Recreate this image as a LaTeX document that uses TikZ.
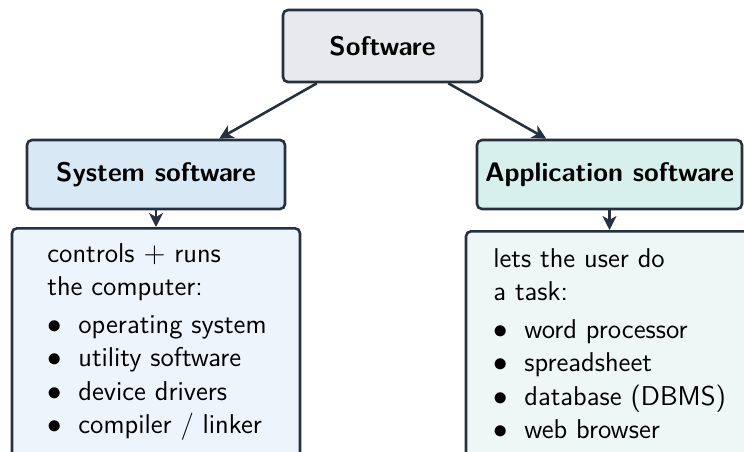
\documentclass[tikz,border=0pt]{standalone}
\usetikzlibrary{arrows.meta}
\definecolor{edgec}{HTML}{263140}
\definecolor{greyf}{HTML}{E8E9EC}
\definecolor{bluef}{HTML}{D8E8F4}
\definecolor{bluel}{HTML}{EEF4FB}
\definecolor{greenf}{HTML}{D8F0EB}
\definecolor{greenl}{HTML}{EEF7F5}
\newcommand{\itm}[1]{\makebox[15.5pt][l]{$\bullet$}#1}
\begin{document}
\begin{tikzpicture}[x=0.5pt,y=-0.5pt,
  box/.style={draw=edgec, line width=1.3pt, rounded corners=2.5pt, inner sep=0pt},
  head/.style={box, font=\sffamily\bfseries\fontsize{13.4}{16}\selectfont, text=black},
  body/.style={anchor=north west, inner sep=0pt, align=left, font=\sffamily\fontsize{13.6}{16.75}\selectfont, text=black},
  arr/.style={draw=edgec, line width=1.3pt, -{Stealth[length=7pt,width=7pt,inset=2pt]}}
]
\useasboundingbox (0,0) rectangle (744,451);
\node[head, fill=greyf, minimum width=99.5pt, minimum height=36pt] (soft) at (382.5,46) {Software};
\node[head, fill=bluef, minimum width=129pt, minimum height=34.5pt] (sys) at (156,174.5) {System software};
\node[head, fill=greenf, minimum width=132.5pt, minimum height=34.5pt] (app) at (609.5,174.5) {Application software};
\node[box, fill=bluel, minimum width=144pt, minimum height=130pt, anchor=north] (ldet) at (156,227) {};
\node[box, fill=greenl, minimum width=143.5pt, minimum height=130pt, anchor=north] (rdet) at (609.5,230) {};
\node[body] (ltxt) at (47,243) {controls $+$ runs\\ the computer:\\[2pt]
  \itm{operating system}\\ \itm{utility software}\\ \itm{device drivers}\\ \itm{compiler / linker}};
\node[body] (rtxt) at (493,248) {lets the user do\\ a task:\\[2pt]
  \itm{word processor}\\ \itm{spreadsheet}\\ \itm{database (DBMS)}\\ \itm{web browser}};
\draw[arr] (soft) -- (sys);
\draw[arr] (soft) -- (app);
\draw[arr] (sys.south) -- (ldet.north);
\draw[arr] (app.south) -- (rdet.north);
\end{tikzpicture}
\end{document}
